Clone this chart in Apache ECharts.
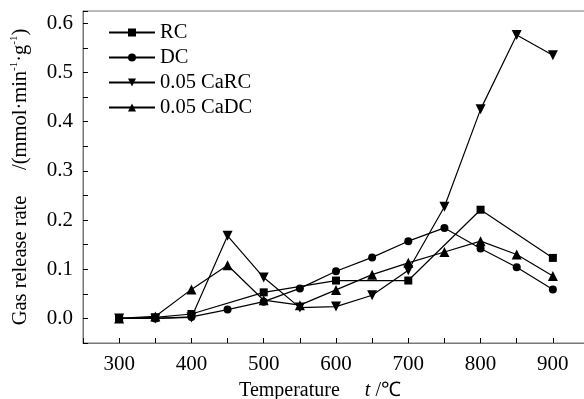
<!DOCTYPE html>
<html>
<head>
<meta charset="utf-8">
<script src="https://cdn.jsdelivr.net/npm/echarts@6/dist/echarts.min.js"></script>
<style>
  html, body { margin: 0; padding: 0; background: #fff; }
  #chart { width: 584px; height: 399px; }
</style>
</head>
<body>
<div id="chart"></div>
<script>
// 数据
const temps = [300, 350, 400, 450, 500, 550, 600, 650, 700, 750, 800, 850, 900];
const rcTemps = [300, 350, 400, 500, 600, 700, 800, 900];
const rcValues = [0.0, 0.002, 0.009, 0.053, 0.077, 0.077, 0.221, 0.123];
const dcValues = [0.0, 0.0, 0.003, 0.018, 0.034, 0.061, 0.096, 0.124, 0.157, 0.184, 0.142, 0.104, 0.059];
const caRcValues = [0.0, 0.0, 0.002, 0.168, 0.083, 0.022, 0.024, 0.047, 0.098, 0.227, 0.425, 0.576, 0.535];
const caDcValues = [0.0, 0.004, 0.059, 0.108, 0.037, 0.027, 0.058, 0.089, 0.113, 0.135, 0.157, 0.130, 0.086];
const seriesNames = ['RC', 'DC', '0.05 CaRC', '0.05 CaDC'];

const font = 'Liberation Serif';
const axisColor = '#777';

const pairs = (xs, ys) => xs.map((x, i) => [x, ys[i]]);

const makeSeries = (name, data, symbol, size, rotate) => ({
  name: name,
  type: 'line',
  data: data,
  symbol: symbol,
  symbolSize: size,
  symbolRotate: rotate || 0,
  lineStyle: { color: '#000', width: 1.2 },
  itemStyle: { color: '#000' },
  emphasis: { disabled: true },
  z: 3
});

const chart = echarts.init(document.getElementById('chart'));

chart.setOption({
  animation: false,
  grid: {
    left: 83, top: 11, right: -5, bottom: 56,
    outerBoundsMode: 'none',
    show: true, borderColor: axisColor, borderWidth: 1
  },
  legend: {
    orient: 'vertical',
    left: 103,
    top: 17,
    itemWidth: 46,
    itemHeight: 10,
    itemGap: 4,
    data: seriesNames,
    textStyle: { fontFamily: font, fontSize: 20.5, color: '#000', lineHeight: 20 }
  },
  xAxis: {
    type: 'value',
    min: 250,
    max: 950,
    interval: 50,
    name: '{a|Temperature     }{i|t}{a| /℃}',
    nameLocation: 'middle',
    nameGap: 38,
    nameTextStyle: {
      padding: [0, 32, 0, 0],
      rich: {
        a: { fontFamily: font, fontSize: 20, color: '#000' },
        i: { fontFamily: font, fontSize: 20, color: '#000', fontStyle: 'italic' }
      }
    },
    axisLine: { onZero: false, lineStyle: { color: axisColor } },
    axisTick: { inside: true, length: 5, lineStyle: { color: '#000' } },
    splitLine: { show: false },
    axisLabel: {
      fontFamily: font, fontSize: 21, color: '#000', margin: 11,
      formatter: v => (v % 100 === 0 && v >= 300 && v <= 900) ? String(v) : ''
    }
  },
  yAxis: {
    type: 'value',
    min: -0.05,
    max: 0.625,
    interval: 0.05,
    name: '{a|Gas release rate     /(mmol·min}{s|-1}{a|·g}{s|-1}{a|)}',
    nameLocation: 'middle',
    nameGap: 51,
    nameTextStyle: {
      rich: {
        a: { fontFamily: font, fontSize: 20.5, color: '#000' },
        s: { fontFamily: font, fontSize: 11, color: '#000', padding: [0, 0, 12, 0] }
      }
    },
    axisLine: { show: true, onZero: false, lineStyle: { color: axisColor } },
    axisTick: { show: true, inside: true, length: 5, lineStyle: { color: '#000' } },
    splitLine: { show: false },
    axisLabel: {
      fontFamily: font, fontSize: 21, color: '#000', margin: 10,
      formatter: v => {
        const r = Math.round(v * 100);
        return (r % 10 === 0 && r >= 0 && r <= 60) ? (r / 100).toFixed(1) : '';
      }
    }
  },
  series: [
    makeSeries(seriesNames[0], pairs(rcTemps, rcValues), 'rect', 8),
    makeSeries(seriesNames[1], pairs(temps, dcValues), 'circle', 8),
    makeSeries(seriesNames[2], pairs(temps, caRcValues), 'triangle', 10, 180),
    makeSeries(seriesNames[3], pairs(temps, caDcValues), 'triangle', 10)
  ]
});
</script>
</body>
</html>
